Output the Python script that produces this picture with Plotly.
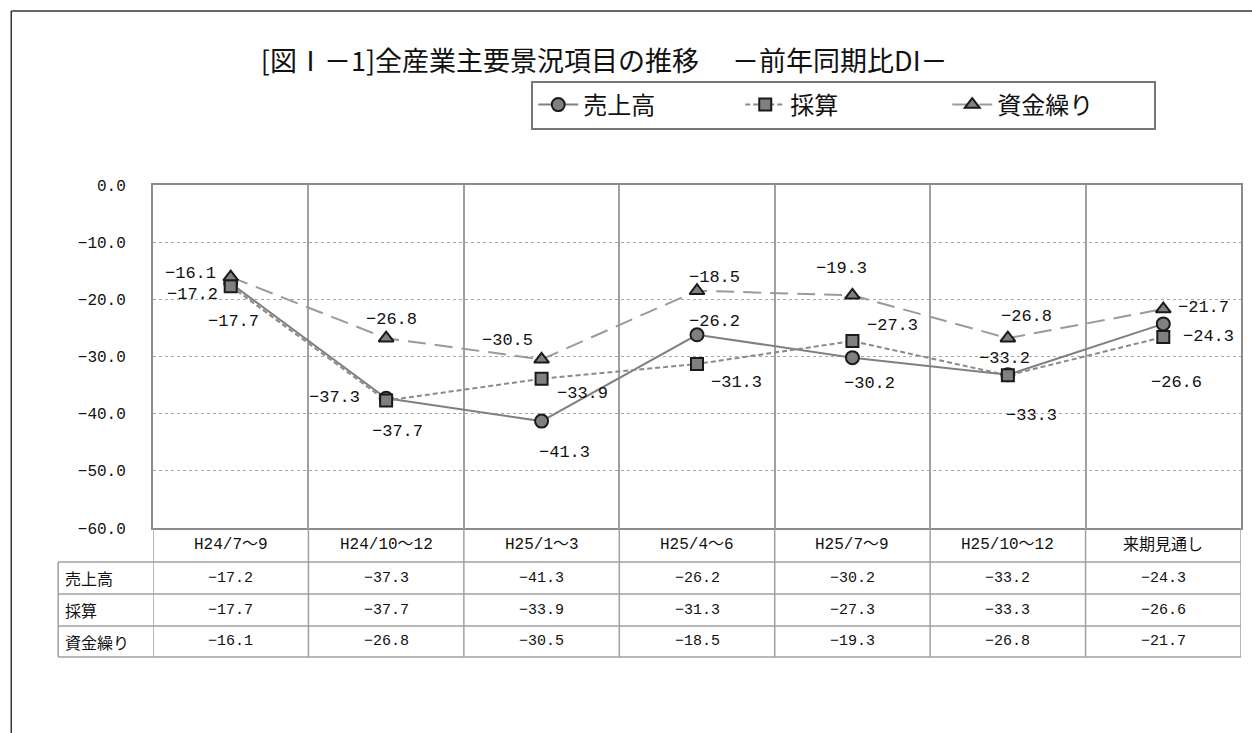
import plotly.graph_objects as go

categories = ["H24/7～9", "H24/10～12", "H25/1～3", "H25/4～6", "H25/7～9", "H25/10～12", "来期見通し"]
series_names = ["売上高", "採算", "資金繰り"]
sales = [-17.2, -37.3, -41.3, -26.2, -30.2, -33.2, -24.3]
profit = [-17.7, -37.7, -33.9, -31.3, -27.3, -33.3, -26.6]
funds = [-16.1, -26.8, -30.5, -18.5, -19.3, -26.8, -21.7]
title_text = "[図Ⅰ－1]全産業主要景況項目の推移　 －前年同期比DI－"

series_values = [sales, profit, funds]

# label offsets (pixels, dx right, dy down) for data labels
label_offsets = [
    [(-38, 11), (-52, -1), (23, 31), (17, -13), (17, 26), (-3, -16), (45, 13)],
    [(3, 35), (11, 31), (41, 15), (39, 19), (40, -16), (24, 40), (13, 45)],
    [(-40, -4), (5, -19), (-34, -19), (17, -13), (-11, -27), (19, -22), (40, -2)],
]
styles = [
    dict(color="#808080", dash="solid", symbol="circle", size=13),
    dict(color="#8a8a8a", dash="5px,3px", symbol="square", size=12),
    dict(color="#9a9a9a", dash="18px,9px", symbol="triangle-up", size=13),
]

W, H = 1252, 733
L, R, T, B = 153, 9, 185, 205
PW, PH = W - L - R, H - T - B


def px_x(p):
    return (p - L) / PW


def px_y(p):
    return (H - B - p) / PH


def fmt(v):
    return f"{v:.1f}".replace("-", "−")


NUMFONT = "Liberation Mono, Noto Sans CJK JP"
JPFONT = "Noto Sans CJK JP"

fig = go.Figure()
for name, vals, st in zip(series_names, series_values, styles):
    fig.add_trace(go.Scatter(
        x=categories, y=vals, name=name, mode="lines+markers",
        line=dict(color=st["color"], width=2, dash=st["dash"]),
        marker=dict(symbol=st["symbol"], size=st["size"], color="#808080",
                    line=dict(color="#1a1a1a", width=2)),
    ))

annotations = []
for vals, offs in zip(series_values, label_offsets):
    for c, v, (dx, dy) in zip(categories, vals, offs):
        annotations.append(dict(x=c, y=v, text=fmt(v), showarrow=False,
                                xshift=dx, yshift=-dy, xanchor="center", yanchor="middle",
                                font=dict(family=NUMFONT, size=17, color="#111")))

# table
header_y = px_y(545)
row_centers = [px_y(578), px_y(610), px_y(641.5)]
for c in categories:
    annotations.append(dict(x=c, y=header_y, yref="paper", text=c, showarrow=False,
                            xanchor="center", yanchor="middle",
                            font=dict(family=NUMFONT, size=16, color="#111")))
for name, vals, yc in zip(series_names, series_values, row_centers):
    annotations.append(dict(x=px_x(63), xref="paper", y=yc, yref="paper", text=name,
                            showarrow=False, xanchor="left", yanchor="middle",
                            font=dict(family=JPFONT, size=16, color="#111")))
    for c, v in zip(categories, vals):
        annotations.append(dict(x=c, y=yc, yref="paper", text=fmt(v), showarrow=False,
                                xanchor="center", yanchor="middle",
                                font=dict(family=NUMFONT, size=15, color="#111")))

shapes = []
tcol = "#a0a0a0"
for yl in [562, 594, 626, 657]:
    shapes.append(dict(type="line", xref="paper", yref="paper", x0=px_x(58), x1=px_x(1243),
                       y0=px_y(yl), y1=px_y(yl), line=dict(color=tcol, width=1.5)))
shapes.append(dict(type="line", xref="paper", yref="paper", x0=px_x(58), x1=px_x(58),
                   y0=px_y(562), y1=px_y(657), line=dict(color=tcol, width=1.5)))
for i in range(len(categories) + 1):
    shapes.append(dict(type="line", xref="x", yref="paper", x0=i - 0.5, x1=i - 0.5,
                       y0=0, y1=px_y(657), line=dict(color=tcol, width=1.5)))
# outer frame
shapes.append(dict(type="line", xref="paper", yref="paper", x0=px_x(11), x1=px_x(11),
                   y0=px_y(11), y1=px_y(740), line=dict(color="#333", width=1.5)))
shapes.append(dict(type="line", xref="paper", yref="paper", x0=px_x(11), x1=px_x(1260),
                   y0=px_y(11), y1=px_y(11), line=dict(color="#333", width=1.5)))

fig.update_layout(
    width=W, height=H, margin=dict(l=L, r=R, t=T, b=B),
    paper_bgcolor="white", plot_bgcolor="white",
    title=dict(text=title_text, x=px_x(605), xref="paper", xanchor="center",
               y=1 - 62 / H, yref="container", yanchor="middle",
               font=dict(family=JPFONT, size=27, color="#111")),
    legend=dict(orientation="h", x=px_x(845), y=px_y(105), xanchor="center", yanchor="middle",
                bordercolor="#777", borderwidth=2, bgcolor="white",
                font=dict(family=JPFONT, size=24, color="#111"), itemwidth=40,
                entrywidth=152, traceorder="normal"),
    xaxis=dict(type="category", range=[-0.5, 6.5], showticklabels=False, ticks="",
               tickson="boundaries", showgrid=True, gridcolor="#a0a0a0", gridwidth=1.5,
               showline=True, linecolor="#8c8c8c", linewidth=2, mirror=True, zeroline=False),
    yaxis=dict(range=[-60, 0], dtick=10, tickformat=".1f", ticks="", ticklabelstandoff=22,
               showgrid=True, gridcolor="#a8a8a8", gridwidth=1, griddash="dot",
               showline=True, linecolor="#8c8c8c", linewidth=2, mirror=True, zeroline=False,
               tickfont=dict(family=NUMFONT, size=16, color="#111")),
    annotations=annotations, shapes=shapes, showlegend=True,
)

fig.write_html("out.html", config={"displayModeBar": False},
               post_script="document.body.style.margin='0';document.body.style.overflow='hidden';")
